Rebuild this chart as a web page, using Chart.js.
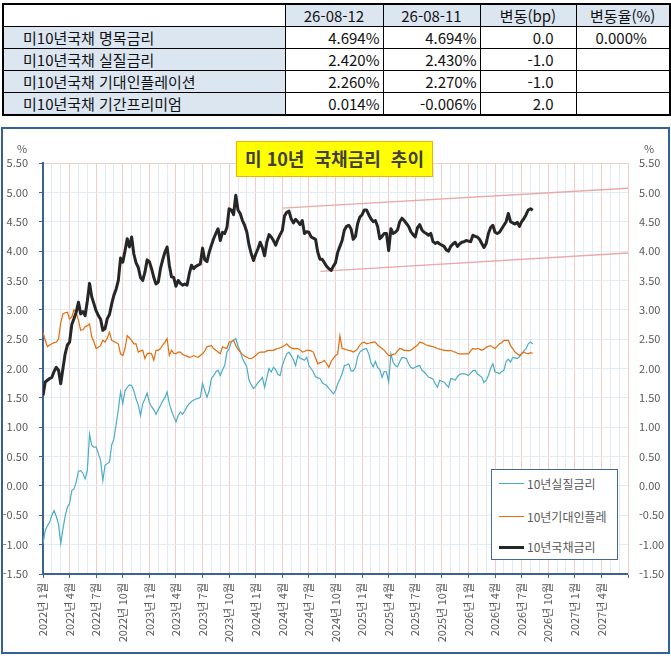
<!DOCTYPE html>
<html lang="ko">
<head>
<meta charset="utf-8">
<script src="https://cdn.jsdelivr.net/npm/chart.js@4.4.1/dist/chart.umd.min.js"></script>
<style>
  html, body { margin:0; padding:0; background:#fff; }
  body { width:671px; height:656px; position:relative; overflow:hidden;
         font-family:'Noto Sans CJK KR','Noto Sans',sans-serif; }
  #tbl { position:absolute; left:2px; top:3px; border-collapse:collapse; table-layout:fixed;
         font-size:15px; color:#111; border:2px solid #000; }
  #tbl td { border:1px solid #000; height:21px; line-height:21px; padding:0; white-space:nowrap; overflow:hidden; }
  #tbl .hd { background:#DCE6F1; text-align:center; }
  #tbl .lb { background:#DCE6F1; text-align:left; padding-left:19px; }
  #tbl .num { text-align:right; padding-right:3px; }
  #tbl .bp { text-align:right; padding-right:22px; }
  #tbl .pct { text-align:left; padding-left:19px; }
  #frame { position:absolute; left:1px; top:127px; width:665px; height:523px; border:2px solid #35609A; background:#fff; }
  #c { position:absolute; left:0; top:0; }
  #title { position:absolute; left:236px; top:141px; width:197px; height:36px; box-sizing:border-box;
           background:#FFFF00; border:1.5px solid #F0B400; color:#404040; font-weight:bold; font-size:18px;
           text-align:center; line-height:33px; white-space:pre; }
  .unit { position:absolute; top:140px; font-size:11px; color:#595959; }
  #legend { position:absolute; left:491px; top:469px; width:127px; height:91px; box-sizing:border-box;
            border:1px solid #46699A; background:#fff; }
  #legend .it { position:absolute; left:0; height:16px; width:125px; }
  #legend .sw { position:absolute; left:7px; width:25px; top:50%; }
  #legend .tx { position:absolute; left:35px; top:0; font-size:12px; line-height:16px; color:#595959; white-space:nowrap; }
</style>
</head>
<body>
<table id="tbl">
  <colgroup><col style="width:282px"><col style="width:98px"><col style="width:97px"><col style="width:96px"><col style="width:94px"></colgroup>
  <tbody id="tbody"></tbody>
</table>

<div id="frame"><canvas id="c" width="665" height="523"></canvas></div>
<div id="title">미 10년  국채금리  추이</div>
<div class="unit" style="left:17px;">%</div>
<div class="unit" style="left:644px;">%</div>
<div id="legend"></div>

<script>
// ---------------- table data ----------------
const tableHeader = ['', '26-08-12', '26-08-11', '변동(bp)', '변동율(%)'];
const tableRowLabels = ['미10년국채 명목금리', '미10년국채 실질금리', '미10년국채 기대인플레이션', '미10년국채 기간프리미엄'];
const tableToday = ['4.694%', '2.420%', '2.260%', '0.014%'];
const tablePrev = ['4.694%', '2.430%', '2.270%', '-0.006%'];
const tableChangeBp = ['0.0', '-1.0', '-1.0', '2.0'];
const tableChangePct = ['0.000%', '', '', ''];

// ---------------- chart data ----------------
const seriesNames = ['10년실질금리', '10년기대인플레', '10년국채금리'];
// one value about every week (1/4 month) starting Jan 2022
const stepMonths = 0.25;
const nominal = [
 1.54,1.77,1.80,1.83, 1.85,1.95,2.02,1.97, 1.74,2.00,2.25,2.40, 2.45,2.75,2.85,2.96,
 3.13,2.93,2.97,2.90, 3.15,3.45,3.22,3.10, 2.98,2.90,2.84,2.65, 2.68,2.85,2.92,3.10,
 3.25,3.35,3.50,3.88, 3.81,4.00,4.21,4.07, 4.24,3.95,3.80,3.72, 3.55,3.50,3.64,3.85,
 3.82,3.70,3.55,3.44, 3.47,3.70,3.85,3.98, 4.07,3.76,3.56,3.55, 3.40,3.50,3.45,3.42,
 3.44,3.42,3.61,3.76, 3.70,3.74,3.76,3.78, 4.05,3.85,3.82,3.98, 4.10,4.21,4.30,4.38,
 4.18,4.32,4.30,4.40, 4.72,4.70,4.62,4.95, 4.70,4.64,4.52,4.44, 4.32,4.10,3.95,3.84,
 3.95,4.04,4.15,4.06, 3.92,4.15,4.28,4.24, 4.18,4.10,4.20,4.28, 4.35,4.60,4.66,4.68,
 4.55,4.48,4.54,4.50, 4.45,4.52,4.30,4.33, 4.32,4.24,4.22,4.20, 3.98,3.86,3.86,3.80,
 3.74,3.70,3.67,3.74, 3.80,3.98,4.08,4.18, 4.36,4.42,4.44,4.38, 4.20,4.25,4.47,4.58,
 4.62,4.70,4.70,4.62, 4.55,4.50,4.52,4.42, 4.21,4.25,4.30,4.30, 4.01,4.38,4.30,4.32,
 4.36,4.50,4.56,4.52, 4.47,4.42,4.33,4.28, 4.24,4.40,4.45,4.36, 4.32,4.30,4.27,4.30,
 4.16,4.13,4.15,4.12, 4.10,4.08,4.02,4.00, 4.08,4.12,4.15,4.08, 4.12,4.15,4.16,4.18,
 4.17,4.16,4.27,4.25, 4.24,4.20,4.13,4.06, 4.13,4.30,4.40,4.44, 4.32,4.30,4.32,4.38,
 4.44,4.50,4.64,4.50, 4.48,4.46,4.49,4.42, 4.50,4.55,4.62,4.70, 4.72,4.694
];
const realRate = [
 -0.98,-0.76,-0.68,-0.62, -0.50,-0.42,-0.52,-0.65, -0.98,-0.73,-0.52,-0.36, -0.30,-0.08,-0.05,0.07,
 0.25,0.26,0.22,0.12, 0.26,0.88,0.69,0.66, 0.66,0.55,0.43,0.09, 0.35,0.38,0.41,0.70,
 0.80,1.05,1.30,1.60, 1.40,1.62,1.68,1.72, 1.71,1.62,1.48,1.38, 1.20,1.40,1.48,1.58,
 1.42,1.35,1.30,1.22, 1.30,1.37,1.45,1.50, 1.60,1.40,1.28,1.18, 1.09,1.20,1.26,1.22,
 1.28,1.35,1.40,1.44, 1.46,1.48,1.49,1.51, 1.75,1.62,1.51,1.62, 1.83,1.88,1.94,1.97,
 1.88,1.98,2.05,2.28, 2.34,2.45,2.48,2.51, 2.38,2.30,2.17,2.10, 2.02,1.80,1.72,1.66,
 1.70,1.76,1.80,1.85, 1.68,1.84,2.00,1.94, 2.02,1.98,1.90,1.88, 2.05,2.16,2.25,2.28,
 2.22,2.15,2.05,2.22, 2.18,2.16,2.14,2.19, 2.05,2.00,1.94,1.86, 1.84,1.83,1.76,1.73,
 1.71,1.66,1.62,1.57, 1.62,1.74,1.82,1.91, 2.05,2.06,2.08,1.96, 1.96,2.02,2.20,2.28,
 2.31,2.33,2.34,2.25, 2.10,2.03,2.12,2.02, 1.98,1.85,1.95,1.94, 1.77,2.25,2.11,2.05,
 2.03,2.12,2.19,2.18, 2.17,2.08,2.02,2.00, 2.02,2.04,2.05,1.97, 1.94,1.90,1.85,1.84,
 1.82,1.74,1.68,1.80, 1.78,1.77,1.72,1.68, 1.83,1.82,1.80,1.86, 1.90,1.91,1.91,1.90,
 1.88,1.92,1.96,1.97, 1.91,1.88,1.85,1.76, 1.80,1.88,2.00,2.08, 1.94,1.93,1.91,1.95,
 1.97,2.12,2.16,2.11, 2.19,2.18,2.17,2.20, 2.25,2.30,2.34,2.42, 2.45,2.42
];
const breakeven = [
 2.62,2.48,2.37,2.40, 2.42,2.44,2.45,2.50, 2.78,2.93,2.95,2.96, 2.84,2.88,3.00,2.95,
 2.82,2.65,2.66,2.71, 2.73,2.76,2.54,2.45, 2.34,2.36,2.39,2.48, 2.45,2.52,2.62,2.48,
 2.46,2.44,2.42,2.25, 2.22,2.34,2.56,2.52, 2.48,2.42,2.42,2.28, 2.30,2.31,2.17,2.25,
 2.26,2.25,2.14,2.31, 2.31,2.34,2.40,2.45, 2.51,2.22,2.31,2.26, 2.25,2.28,2.28,2.24,
 2.22,2.21,2.19,2.20, 2.22,2.20,2.19,2.22, 2.25,2.30,2.37,2.38, 2.39,2.34,2.31,2.28,
 2.25,2.37,2.35,2.34, 2.45,2.46,2.48,2.39, 2.32,2.28,2.24,2.21, 2.19,2.17,2.17,2.19,
 2.22,2.26,2.28,2.28, 2.28,2.30,2.31,2.31, 2.31,2.33,2.34,2.35, 2.37,2.39,2.42,2.38,
 2.35,2.34,2.34,2.34, 2.32,2.28,2.29,2.31, 2.31,2.30,2.28,2.18, 2.08,2.10,2.11,2.14,
 2.08,2.02,2.12,2.17, 2.22,2.25,2.56,2.34, 2.33,2.32,2.31,2.30, 2.28,2.30,2.34,2.40,
 2.44,2.45,2.42,2.43, 2.44,2.45,2.45,2.40, 2.37,2.34,2.31,2.26, 2.22,2.22,2.24,2.25,
 2.30,2.34,2.33,2.31, 2.31,2.30,2.31,2.34, 2.37,2.40,2.45,2.44, 2.42,2.40,2.39,2.38,
 2.37,2.36,2.34,2.33, 2.32,2.31,2.31,2.30, 2.31,2.29,2.28,2.26, 2.25,2.25,2.25,2.25,
 2.25,2.30,2.34,2.33, 2.34,2.33,2.31,2.33, 2.36,2.38,2.39,2.36, 2.34,2.38,2.42,2.44,
 2.48,2.48,2.48,2.39, 2.34,2.28,2.25,2.22, 2.25,2.28,2.26,2.25, 2.27,2.26
];
// channel lines (month index, value)
const upperTrend = [[27, 4.73], [66, 5.07]];
const lowerTrend = [[31.3, 3.655], [66, 3.967]];

const xTickLabels = [
 '2022년 1월','2022년 4월','2022년 7월','2022년 10월',
 '2023년 1월','2023년 4월','2023년 7월','2023년 10월',
 '2024년 1월','2024년 4월','2024년 7월','2024년 10월',
 '2025년 1월','2025년 4월','2025년 7월','2025년 10월',
 '2026년 1월','2026년 4월','2026년 7월','2026년 10월',
 '2027년 1월','2027년 4월'
];
const xMin = 0, xMax = 66;
const yMin = -1.5, yMax = 5.5, yStep = 0.25;

// ---------------- styles ----------------
const colors = { real:'#4BACC6', be:'#E46C0A', nom:'#262626', trend:'#EBA8A8' };
const gridBlue = '#E2EAF4', gridPink = '#F2CBCB', axisBlue = '#3B6494', tickText = '#595959';

// ---------------- table build ----------------
(function buildTable(){
  const tb = document.getElementById('tbody');
  const tr = document.createElement('tr');
  tableHeader.forEach((h, i) => {
    const td = document.createElement('td');
    td.textContent = h;
    td.className = i === 0 ? '' : 'hd';
    tr.appendChild(td);
  });
  tb.appendChild(tr);
  tableRowLabels.forEach((lab, r) => {
    const row = document.createElement('tr');
    const cells = [[lab,'lb'],[tableToday[r],'num'],[tablePrev[r],'num'],[tableChangeBp[r],'bp'],[tableChangePct[r],'pct']];
    cells.forEach(([t,c]) => { const td = document.createElement('td'); td.textContent = t; td.className = c; row.appendChild(td); });
    tb.appendChild(row);
  });
})();

// ---------------- legend build ----------------
(function buildLegend(){
  const lg = document.getElementById('legend');
  const items = [[seriesNames[0], colors.real, 1.5, 6], [seriesNames[1], colors.be, 1.5, 39], [seriesNames[2], colors.nom, 3, 69]];
  items.forEach(([name, col, w, top]) => {
    const it = document.createElement('div'); it.className = 'it'; it.style.top = top + 'px';
    const sw = document.createElement('div'); sw.className = 'sw';
    sw.style.borderTop = w + 'px solid ' + col; sw.style.marginTop = (-w/2) + 'px';
    const tx = document.createElement('div'); tx.className = 'tx'; tx.textContent = name;
    it.appendChild(sw); it.appendChild(tx); lg.appendChild(it);
  });
})();

// ---------------- chart ----------------
Chart.defaults.font.family = "'Noto Sans CJK KR','Noto Sans',sans-serif";
const toPts = arr => arr.map((v, i) => ({ x: i * stepMonths, y: v }));
const pairPts = arr => arr.map(p => ({ x: p[0], y: p[1] }));
const yTickValues = [];
for (let v = yMin; v <= yMax + 1e-9; v += yStep) yTickValues.push(Math.round(v * 100) / 100);
const xTickValues = [];
for (let m = xMin; m <= xMax; m++) xTickValues.push(m);

new Chart(document.getElementById('c'), {
  type: 'line',
  data: {
    datasets: [
      { label: seriesNames[2], data: toPts(nominal), borderColor: colors.nom, borderWidth: 3, order: 0, borderJoinStyle:'round' },
      { label: seriesNames[1], data: toPts(breakeven), borderColor: colors.be, borderWidth: 1.2, order: 1 },
      { label: seriesNames[0], data: toPts(realRate), borderColor: colors.real, borderWidth: 1.2, order: 2 },
      { label: 'upper', data: pairPts(upperTrend), borderColor: colors.trend, borderWidth: 1.3, order: 3 },
      { label: 'lower', data: pairPts(lowerTrend), borderColor: colors.trend, borderWidth: 1.3, order: 4 }
    ]
  },
  options: {
    responsive: false,
    animation: false,
    elements: { point: { radius: 0 }, line: { tension: 0, fill: false } },
    plugins: { legend: { display: false }, tooltip: { enabled: false }, title: { display: false } },
    layout: { padding: { top: 34, left: 0, right: 0, bottom: 0 } },
    scales: {
      x: {
        type: 'linear', min: xMin, max: xMax,
        afterBuildTicks: s => { s.ticks = xTickValues.map(v => ({ value: v })); },
        afterFit: s => { s.height = 78; },
        ticks: {
          autoSkip: false, minRotation: 90, maxRotation: 90, padding: 5,
          color: tickText, font: { size: 11 },
          callback: v => (v % 3 === 0 && v / 3 < xTickLabels.length) ? xTickLabels[v / 3] : ''
        },
        grid: {
          color: c => (c.tick && c.tick.value % 3 === 0) ? gridPink : gridBlue,
          tickColor: c => (c.tick && c.tick.value % 3 === 0) ? axisBlue : 'rgba(0,0,0,0)',
          tickLength: 4, lineWidth: 1
        },
        border: { color: axisBlue, width: 2 }
      },
      y: {
        position: 'left', min: yMin, max: yMax,
        afterBuildTicks: s => { s.ticks = yTickValues.map(v => ({ value: v })); },
        afterFit: s => { s.width = 40; },
        ticks: { color: tickText, font: { size: 11 }, padding: 11, callback: v => Number(v).toFixed(2) },
        grid: {
          color: c => (c.tick && c.tick.value === yMax) ? gridPink : gridBlue,
          tickColor: axisBlue, tickLength: 4, lineWidth: 1
        },
        border: { color: axisBlue, width: 2 }
      },
      y2: {
        position: 'right', min: yMin, max: yMax,
        afterBuildTicks: s => { s.ticks = yTickValues.map(v => ({ value: v })); },
        afterFit: s => { s.width = 40; },
        ticks: { color: tickText, font: { size: 11 }, padding: 11, callback: v => Number(v).toFixed(2) },
        grid: { drawOnChartArea: false, drawTicks: false },
        border: { color: gridPink, width: 1 }
      }
    }
  }
});
</script>
</body>
</html>
